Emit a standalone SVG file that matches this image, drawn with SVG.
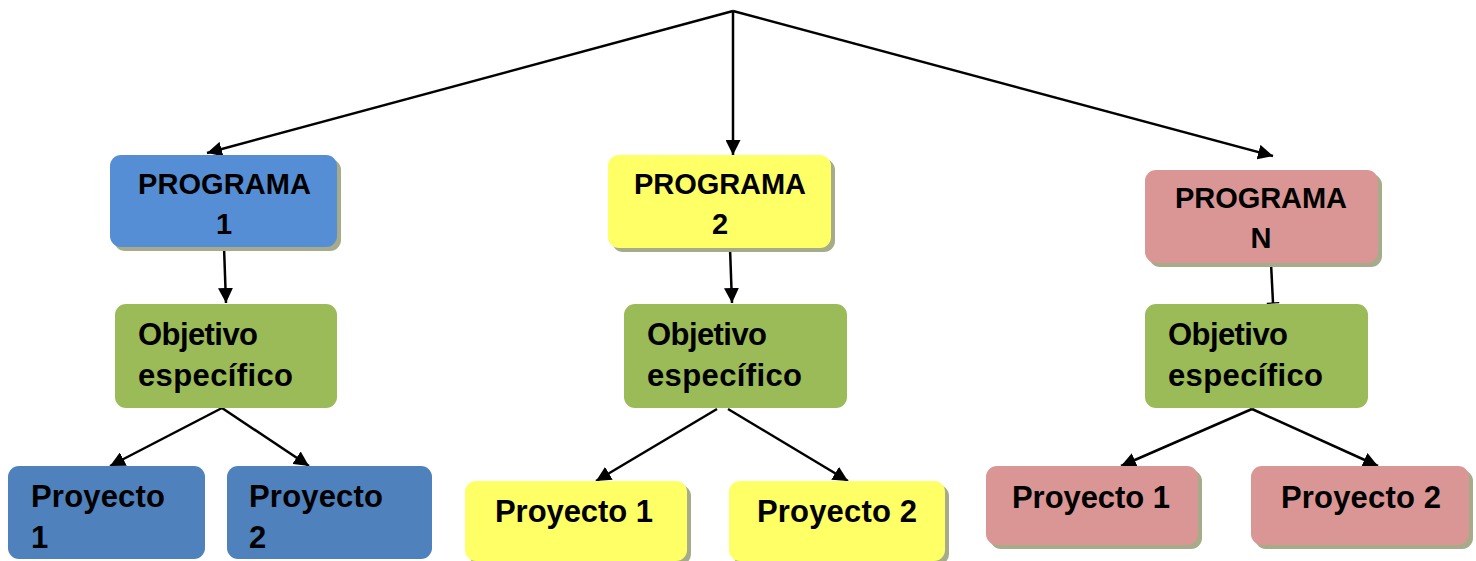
<svg xmlns="http://www.w3.org/2000/svg" width="1476" height="561" viewBox="0 0 1476 561">
<style>
.t{font-family:"Liberation Sans",Arial,sans-serif;font-weight:bold;fill:#000}
.p{font-size:29px}
.o{font-size:31px}
.c{stroke:#000;stroke-width:2.5;fill:none}
.sh{fill:#a6ab8a}
.blue1{fill:#558ed5}
.blue2{fill:#4f81bd}
.yel{fill:#ffff66}
.pink{fill:#d99694}
.grn{fill:#9bbb59}
</style>
<defs>
<marker id="ah" viewBox="0 0 10 10" refX="10" refY="5" markerWidth="6" markerHeight="6" markerUnits="strokeWidth" orient="auto">
<path d="M0,0 L10,5 L0,10 z" fill="#000"/>
</marker>
<marker id="bar" viewBox="0 0 2 10" refX="1" refY="5" markerWidth="1" markerHeight="6" markerUnits="strokeWidth" orient="auto">
<path d="M1,0 L1,10" stroke="#000" stroke-width="1"/>
</marker>
</defs>
<rect width="1476" height="561" fill="#fff"/>
<g id="connectors">
<line class="c" x1="733" y1="11" x2="207" y2="153" marker-end="url(#ah)"/>
<line class="c" x1="733" y1="11" x2="733" y2="155" marker-end="url(#ah)"/>
<line class="c" x1="733" y1="11" x2="1273" y2="156" marker-end="url(#ah)"/>
<line class="c" x1="224" y1="247" x2="226" y2="303" marker-end="url(#ah)"/>
<line class="c" x1="730" y1="248" x2="732" y2="303" marker-end="url(#ah)"/>
<line class="c" x1="1271" y1="263" x2="1273" y2="303" marker-end="url(#bar)"/>
<line class="c" x1="222" y1="408" x2="110" y2="466" marker-end="url(#ah)"/>
<line class="c" x1="222" y1="408" x2="309" y2="466" marker-end="url(#ah)"/>
<line class="c" x1="717" y1="409" x2="596" y2="481" marker-end="url(#ah)"/>
<line class="c" x1="728" y1="409" x2="848" y2="481" marker-end="url(#ah)"/>
<line class="c" x1="1252" y1="409" x2="1121" y2="466" marker-end="url(#ah)"/>
<line class="c" x1="1252" y1="409" x2="1378" y2="466" marker-end="url(#ah)"/>
</g>
<g id="programa1">
<rect class="sh" x="114" y="159" width="227" height="92" rx="11"/>
<rect class="blue1" x="110" y="155" width="227" height="92" rx="11"/>
<text class="t p" x="138" y="194" textLength="173" lengthAdjust="spacing">PROGRAMA</text>
<text class="t p" x="224" y="234" text-anchor="middle">1</text>
</g>
<g id="programa2">
<rect class="sh" x="612" y="159" width="223" height="93" rx="11"/>
<rect class="yel" x="608" y="155" width="223" height="93" rx="11"/>
<text class="t p" x="634" y="194" textLength="172" lengthAdjust="spacing">PROGRAMA</text>
<text class="t p" x="720" y="234" text-anchor="middle">2</text>
</g>
<g id="programaN">
<rect class="sh" x="1149" y="174" width="233" height="93" rx="11"/>
<rect class="pink" x="1145" y="170" width="233" height="93" rx="11"/>
<text class="t p" x="1175" y="208" textLength="172" lengthAdjust="spacing">PROGRAMA</text>
<text class="t p" x="1261" y="248" text-anchor="middle">N</text>
</g>
<g id="objetivo1">
<rect class="grn" x="115" y="304" width="222" height="104" rx="11"/>
<text class="t o" x="138" y="345" textLength="120" lengthAdjust="spacing">Objetivo</text>
<text class="t o" x="138" y="386" textLength="155" lengthAdjust="spacing">específico</text>
</g>
<g id="objetivo2">
<rect class="grn" x="624" y="304" width="223" height="104" rx="11"/>
<text class="t o" x="647" y="345" textLength="120" lengthAdjust="spacing">Objetivo</text>
<text class="t o" x="647" y="386" textLength="155" lengthAdjust="spacing">específico</text>
</g>
<g id="objetivoN">
<rect class="grn" x="1145" y="304" width="223" height="104" rx="11"/>
<text class="t o" x="1168" y="345" textLength="120" lengthAdjust="spacing">Objetivo</text>
<text class="t o" x="1168" y="386" textLength="155" lengthAdjust="spacing">específico</text>
</g>
<g id="proyecto1-1">
<rect class="blue2" x="8" y="466" width="197" height="93" rx="11"/>
<text class="t o" x="31" y="507" textLength="134" lengthAdjust="spacing">Proyecto</text>
<text class="t o" x="31" y="548">1</text>
</g>
<g id="proyecto1-2">
<rect class="blue2" x="227" y="466" width="205" height="93" rx="11"/>
<text class="t o" x="249" y="507" textLength="134" lengthAdjust="spacing">Proyecto</text>
<text class="t o" x="249" y="548">2</text>
</g>
<g id="proyecto2-1">
<rect class="sh" x="469" y="485" width="222" height="80" rx="11"/>
<rect class="yel" x="465" y="481" width="222" height="80" rx="11"/>
<text class="t o" x="495" y="522" textLength="158" lengthAdjust="spacing">Proyecto 1</text>
</g>
<g id="proyecto2-2">
<rect class="sh" x="733" y="485" width="216" height="80" rx="11"/>
<rect class="yel" x="729" y="481" width="216" height="80" rx="11"/>
<text class="t o" x="757" y="522" textLength="160" lengthAdjust="spacing">Proyecto 2</text>
</g>
<g id="proyectoN-1">
<rect class="sh" x="990" y="470" width="212" height="79" rx="11"/>
<rect class="pink" x="986" y="466" width="212" height="79" rx="11"/>
<text class="t o" x="1012" y="508" textLength="158" lengthAdjust="spacing">Proyecto 1</text>
</g>
<g id="proyectoN-2">
<rect class="sh" x="1255" y="470" width="218" height="79" rx="11"/>
<rect class="pink" x="1251" y="466" width="218" height="79" rx="11"/>
<text class="t o" x="1281" y="508" textLength="160" lengthAdjust="spacing">Proyecto 2</text>
</g>
</svg>
